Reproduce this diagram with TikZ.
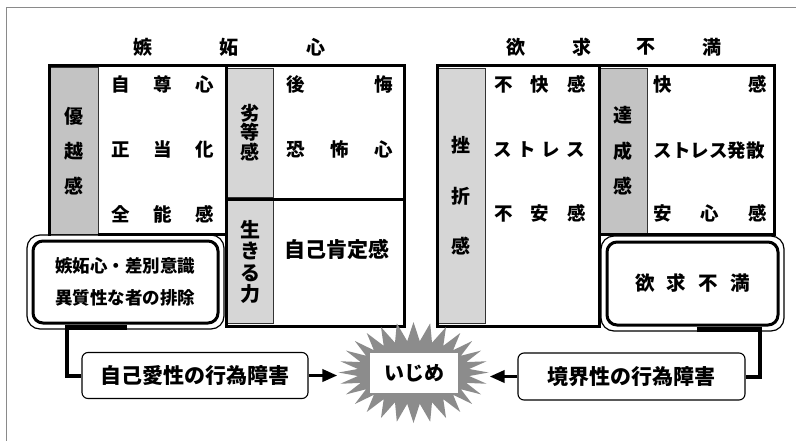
\documentclass[tikz,border=0pt]{standalone}
\usepackage{fontspec}
\setmainfont{Noto Sans CJK JP}
\usetikzlibrary{shapes.symbols,arrows.meta,calc}
\definecolor{graydark}{HTML}{C3C3C3}
\definecolor{graylight}{HTML}{D6D6D6}
\definecolor{burstgray}{HTML}{8C8C8C}
\definecolor{framegray}{HTML}{8A8A8A}
\begin{document}
\begin{tikzpicture}[x=1pt,y=-1pt,
  txt/.style={font=\fontsize{18.5}{18.5}\selectfont\bfseries, inner sep=0pt},
  head/.style={font=\fontsize{19}{19}\selectfont\bfseries, inner sep=0pt},
  gcol/.style={draw=black!80, line width=0.8pt, inner sep=0pt, align=center},
  grid/.style={line width=3pt, line cap=rect},
  dbox/.style={draw, line width=3pt, rounded corners=10pt, align=center, inner sep=0pt},
  dout/.style={line width=1.2pt, rounded corners=13pt},
  rbox/.style={draw, line width=1.1pt, rounded corners=6pt, inner sep=0pt, font=\fontsize{21}{21}\selectfont\bfseries},
  conn/.style={line width=4pt},
  arr/.style={line width=3.5pt, -{Triangle[length=15pt,width=12pt]}}
]
\useasboundingbox (0,0) rectangle (796,440);
\fill[white] (0,0) rectangle (796,440);
\draw[framegray, line width=1.5pt] (6.5,441) -- (6.5,7.5) -- (797,7.5);

% headers
\node[head] (hl1) at (143,47) {嫉};
\node[head] (hl2) at (229,47) {妬};
\node[head] (hl3) at (316,47) {心};
\node[head] (hr1) at (516,47) {欲};
\node[head] (hr2) at (582,47) {求};
\node[head] (hr3) at (646,47) {不};
\node[head] (hr4) at (712,47) {満};

% gray columns
\node[gcol, fill=graydark, minimum width=48pt, minimum height=167pt,
  font=\fontsize{19}{35}\selectfont\bfseries] (yuetsu) at (74,151) {優\\越\\感};
\node[gcol, fill=graylight, minimum width=46pt, minimum height=129pt,
  font=\fontsize{19}{19.5}\selectfont\bfseries] (rettou) at (250,132.5) {劣\\等\\感};
\node[gcol, fill=graylight, minimum width=46pt, minimum height=123pt,
  font=\fontsize{20}{21.5}\selectfont\bfseries] (ikiru) at (250,262) {生\\き\\る\\力};
\node[gcol, fill=graylight, minimum width=48pt, minimum height=255pt,
  font=\fontsize{19}{50.5}\selectfont\bfseries] (zasetsu) at (461,196) {挫\\折\\感};
\node[gcol, fill=graydark, minimum width=48pt, minimum height=166pt,
  font=\fontsize{19}{35.5}\selectfont\bfseries] (tassei) at (623,151) {達\\成\\感};

% grid lines left
\draw[grid] (49.5,65) -- (404,65);
\draw[grid] (49.5,65) -- (49.5,234);
\draw[grid] (99,234) -- (226,234);
\draw[grid] (226,65) -- (226,326);
\draw[grid] (226,199) -- (404,199);
\draw[grid] (404,65) -- (404,326);
\draw[grid] (226,326) -- (404,326);
% grid lines right
\draw[grid] (437.5,65) -- (774.5,65);
\draw[grid] (437.5,65) -- (437.5,326.5);
\draw[grid] (437.5,326.5) -- (599.5,326.5);
\draw[grid] (599.5,65) -- (599.5,326.5);
\draw[grid] (599.5,234) -- (774.5,234);
\draw[grid] (774.5,65) -- (774.5,234);

% left block texts
\node[txt] (a1) at (162.5,84) {\makebox[103pt][s]{自\hfill 尊\hfill 心}};
\node[txt] (a2) at (162.5,149) {\makebox[103pt][s]{正\hfill 当\hfill 化}};
\node[txt] (a3) at (162.5,214) {\makebox[103pt][s]{全\hfill 能\hfill 感}};
\node[txt] (b1) at (339.5,84) {\makebox[107pt][s]{後\hfill 悔}};
\node[txt] (b2) at (339.5,149) {\makebox[107pt][s]{恐\hfill 怖\hfill 心}};
\node[txt, font=\fontsize{21}{21}\selectfont\bfseries] (b3) at (337,249) {自己肯定感};

% right block texts
\node[txt] (c1) at (540,84) {\makebox[92pt][s]{不\hfill 快\hfill 感}};
\node[txt] (c2) at (539,150) {\makebox[92pt][s]{ス\hfill ト\hfill レ\hfill ス}};
\node[txt] (c3) at (540,213) {\makebox[92pt][s]{不\hfill 安\hfill 感}};
\node[txt] (d1) at (710,84) {\makebox[113pt][s]{快\hfill 感}};
\node[txt] (d2) at (710,150) {\makebox[113pt][s]{ストレス発散}};
\node[txt] (d3) at (710,213) {\makebox[113pt][s]{安\hfill 心\hfill 感}};

% double boxes
\node[dbox, minimum width=185pt, minimum height=82pt,
  font=\fontsize{17.5}{32}\selectfont\bfseries] (lbox) at (125.5,282) {嫉妬心・差別意識\\異質性な者の排除};
\draw[dout] ([shift={(-4.5pt,4.5pt)}]lbox.north west) rectangle ([shift={(4.5pt,-4.5pt)}]lbox.south east);
\node[dbox, minimum width=171pt, minimum height=83pt,
  font=\fontsize{19.5}{19.5}\selectfont\bfseries] (rbox) at (692.5,283.5) {欲\hspace{12pt}求\hspace{12pt}不\hspace{12pt}満};
\draw[dout] ([shift={(-4.5pt,4.5pt)}]rbox.north west) rectangle ([shift={(4.5pt,-4.5pt)}]rbox.south east);

% lower boxes
\node[rbox, minimum width=226pt, minimum height=46pt] (box1) at (195,375.5) {自己愛性の行為障害};
\node[rbox, minimum width=227pt, minimum height=47pt] (box2) at (631.5,376.5) {境界性の行為障害};

% starburst
\node[starburst, fill=burstgray, draw=none, minimum width=150pt, minimum height=101pt,
  starburst points=28, starburst point height=19pt, random starburst=0, inner sep=0pt] (burst) at (413.5,372.5) {};
\node[fill=white, minimum width=88pt, minimum height=40pt, inner sep=0pt,
  font=\fontsize{20}{20}\selectfont\bfseries] (ijime) at (414,373) {いじめ};

% connectors
\draw[line width=5pt] ([shift={(34pt,-2.5pt)}]lbox.south west) -- ([shift={(95pt,-2.5pt)}]lbox.south west);
\draw[line width=5pt] ([shift={(-83pt,-2.5pt)}]rbox.south east) -- ([shift={(-20pt,-2.5pt)}]rbox.south east);
\draw[conn] ([xshift=35pt]lbox.south west) |- (box1.west);
\draw[conn] ([xshift=-20pt]rbox.south east) |- (box2.east);
\draw[arr] (box1.east) -- (box1.east -| burst.west);
\draw[arr] (box2.west) -- (box2.west -| burst.east);
\end{tikzpicture}
\end{document}
